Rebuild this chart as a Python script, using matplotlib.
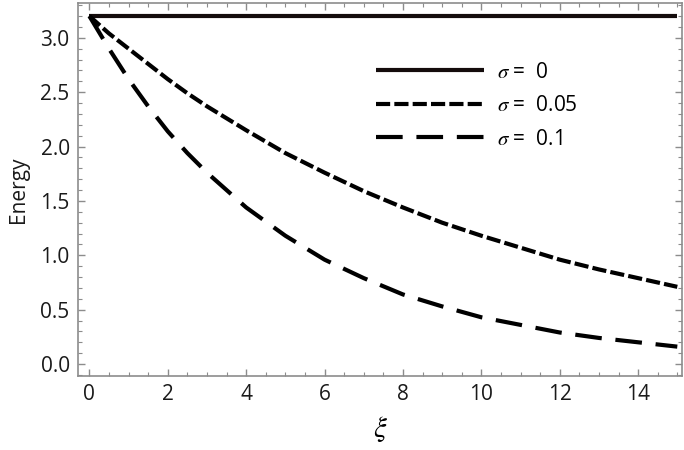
import matplotlib
matplotlib.use('Agg')
import matplotlib.pyplot as plt
from matplotlib.ticker import MultipleLocator

plt.rcParams['font.family'] = ['Open Sans', 'DejaVu Sans']
plt.rcParams['mathtext.fontset'] = 'stix'

# ---- data ----
xi = [0, 0.5, 1, 1.5, 2, 2.5, 3, 4, 5, 6, 7, 8, 9, 10, 11, 12, 13, 14, 15]
energy_s0 = [3.2] * 19
energy_s005 = [3.2, 3.04, 2.9, 2.76, 2.62, 2.49, 2.37, 2.15, 1.94, 1.76, 1.59,
               1.44, 1.3, 1.18, 1.07, 0.96, 0.87, 0.79, 0.71]
energy_s01 = [3.2, 2.9, 2.62, 2.37, 2.14, 1.94, 1.76, 1.44, 1.18, 0.96, 0.79,
              0.64, 0.53, 0.43, 0.36, 0.29, 0.24, 0.2, 0.16]
labels = [r'$\sigma$ =  0', r'$\sigma$ =  0.05', r'$\sigma$ =  0.1']

fig = plt.figure(figsize=(6.84, 4.5), dpi=100)
ax = fig.add_axes([78 / 684, 74 / 450, 604 / 684, 373 / 450])

lw = 3.0
ax.plot(xi, energy_s0, color='#140c0c', lw=lw, solid_capstyle='butt', label=labels[0])
ax.plot(xi, energy_s005, color='black', lw=lw, dashes=(3.4, 1.0), label=labels[1])
ax.plot(xi, energy_s01, color='black', lw=lw, dashes=(6.4, 3.3), label=labels[2])

ax.set_xlim(-0.29, 15.12)
ax.set_ylim(-0.11, 3.32)
ax.xaxis.set_major_locator(MultipleLocator(2))
ax.xaxis.set_minor_locator(MultipleLocator(0.5))
ax.yaxis.set_minor_locator(MultipleLocator(0.1))
ax.set_yticks([0, 0.5, 1, 1.5, 2, 2.5, 3])
ax.set_yticklabels(['0.0', '0.5', '1.0', '1.5', '2.0', '2.5', '3.0'])

for s in ax.spines.values():
    s.set_color('#8c8c8c')
    s.set_linewidth(1.2)
ax.tick_params(which='both', direction='in', top=True, right=True,
               color='#8c8c8c', labelsize=15, labelcolor='#1a1a1a')
ax.tick_params(which='major', length=5, width=1, pad=6)
ax.tick_params(which='minor', length=3, width=0.8)

ax.set_xlabel(r'$\xi$', fontsize=21, labelpad=6)
ax.set_ylabel('Energy', fontsize=15, labelpad=8, color='#1a1a1a')

ax.legend(loc='upper left', bbox_to_anchor=(0.493, 0.843), frameon=False,
          fontsize=15, handlelength=5.2, handletextpad=0.6, labelspacing=0.6,
          borderpad=0, borderaxespad=0)

fig.savefig('out.png', dpi=100)
